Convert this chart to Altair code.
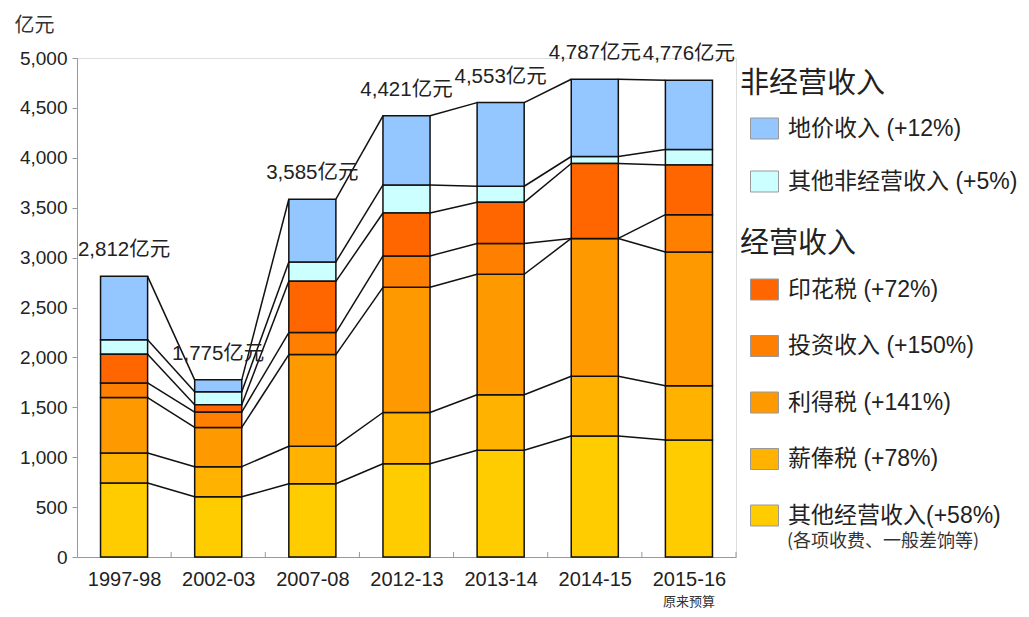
import altair as alt
import pandas as pd

# ---------------- data ----------------
years = ["1997-98", "2002-03", "2007-08", "2012-13", "2013-14", "2014-15", "2015-16"]
totals = [2812, 1775, 3585, 4421, 4553, 4787, 4776]
year_note = "原来预算"

# stacking order: bottom -> top
categories = [
    "其他经营收入(+58%)",
    "薪俸税 (+78%)",
    "利得税 (+141%)",
    "投资收入 (+150%)",
    "印花税 (+72%)",
    "其他非经营收入 (+5%)",
    "地价收入 (+12%)",
]
groups = ["经营收入", "经营收入", "经营收入", "经营收入", "经营收入", "非经营收入", "非经营收入"]
colors = ["#FFCC00", "#FFB300", "#FF9900", "#FF8000", "#FF6600", "#CCFFFF", "#94C6FF"]

other_operating = [741, 603, 734, 935, 1070, 1213, 1173]
salaries_tax = [301, 302, 376, 513, 556, 598, 543]
profits_tax = [555, 393, 918, 1254, 1207, 1381, 1341]
investment_income = [147, 154, 221, 315, 309, 0, 373]
stamp_duty = [287, 73, 513, 430, 412, 751, 499]
other_non_operating = [147, 131, 195, 281, 161, 70, 154]
land_premium = [634, 119, 628, 693, 838, 774, 693]

series = [other_operating, salaries_tax, profits_tax, investment_income,
          stamp_duty, other_non_operating, land_premium]

note_text = "(各项收费、一般差饷等)"

# ---------------- tables ----------------
rows = []
for ci, (cat, grp, vals) in enumerate(zip(categories, groups, series)):
    for yi, (yr, v) in enumerate(zip(years, vals)):
        rows.append({"year": yr, "idx": yi, "category": cat, "group": grp,
                     "order": ci, "value": v})
df = pd.DataFrame(rows)

tot_df = pd.DataFrame({"year": years, "idx": list(range(len(years))), "total": totals})
tot_df["label"] = [f"{t:,}亿元" for t in totals]

note_df = pd.DataFrame({"idx": [len(years) - 1], "note": [year_note]})

FONT = "Liberation Sans, Arial, Noto Sans CJK SC"
CJK = "Noto Sans CJK SC"
W, H = 659, 499

xscale = alt.Scale(domain=[-0.5, len(years) - 0.5], nice=False, zero=False)
yscale = alt.Scale(domain=[0, 5000], nice=False)

label_expr = "[" + ",".join(f"'{y}'" for y in years) + "][datum.value]"

x_axis = alt.Axis(values=list(range(len(years))), labelExpr=label_expr, ticks=False,
                  grid=False, domainColor="#999", domainWidth=1, labelFontSize=20,
                  labelFont=FONT, labelColor="#222", labelPadding=12, title=None)
y_axis = alt.Axis(
    values=list(range(0, 5001, 500)), format=",d", grid=False,
    tickSize=5, tickColor="#999", domainColor="#999", labelFontSize=19,
    labelFont=FONT, labelColor="#222", labelPadding=5,
    title="亿元", titleAngle=0, titleAlign="left", titleBaseline="middle",
    titleX=-63, titleY=-33, titleFont=CJK, titleFontSize=20,
    titleFontWeight="normal", titleColor="#333")

base = alt.Chart(df).transform_stack(
    stack="value", groupby=["year"], as_=["y0", "y1"],
    sort=[alt.SortField("order", order="ascending")],
).transform_calculate(xl="datum.idx - 0.25", xr="datum.idx + 0.25")

nonop_domain = [categories[6], categories[5]]
nonop_range = [colors[6], colors[5]]
op_domain = [categories[4], categories[3], categories[2], categories[1], categories[0]]
op_range = [colors[4], colors[3], colors[2], colors[1], colors[0]]

rect_shape = "M-1,-0.75H1V0.75H-1Z"

def legend(title, ly, rowpad, tpad):
    return alt.Legend(
        title=title, orient="none", legendX=663, legendY=ly,
        titleFontSize=29, titleFont=CJK, titleFontWeight="normal", titleColor="#222",
        titlePadding=tpad, labelFontSize=23, labelFont=FONT, labelColor="#222",
        labelLimit=400, labelOffset=9, symbolType=rect_shape, symbolSize=784,
        symbolStrokeColor="#999", symbolStrokeWidth=1, symbolOpacity=1,
        symbolOffset=10, rowPadding=rowpad, padding=0,
    )

bars_nonop = base.transform_filter(alt.datum.group == "非经营收入").mark_rect(
    stroke="#111", strokeWidth=1.5).encode(
    x=alt.X("xl:Q", scale=xscale, axis=x_axis),
    x2="xr:Q",
    y=alt.Y("y0:Q", scale=yscale, axis=y_axis),
    y2="y1:Q",
    color=alt.Color("category:N", scale=alt.Scale(domain=nonop_domain, range=nonop_range),
                    legend=legend("非经营收入", 12, 26, 15)),
)

bars_op = base.transform_filter(alt.datum.group == "经营收入").mark_rect(
    stroke="#111", strokeWidth=1.5).encode(
    x=alt.X("xl:Q", scale=xscale, axis=x_axis),
    x2="xr:Q",
    y=alt.Y("y0:Q", scale=yscale, axis=y_axis),
    y2="y1:Q",
    color=alt.Color("category:N", scale=alt.Scale(domain=op_domain, range=op_range),
                    legend=legend("经营收入", 172, 29.5, 16)),
)

lines = base.transform_window(
    window=[alt.WindowFieldDef(op="lead", field="y1", **{"as": "next_y1"})],
    groupby=["category"],
    sort=[alt.SortField("idx", order="ascending")],
).transform_filter("isValid(datum.next_y1)").transform_calculate(
    xa="datum.idx + 0.25", xb="datum.idx + 0.75"
).mark_rule(color="#111", strokeWidth=1.5).encode(
    x=alt.X("xa:Q", scale=xscale, axis=x_axis),
    x2="xb:Q",
    y=alt.Y("y1:Q", scale=yscale, axis=y_axis),
    y2="next_y1:Q",
)

sep_ticks = alt.Chart(tot_df).transform_calculate(xs="datum.idx + 0.5").mark_rule(
    color="#999", strokeWidth=1).encode(
    x=alt.X("xs:Q", scale=xscale, axis=x_axis),
    y=alt.value(H - 5), y2=alt.value(H),
)

tot_text = alt.Chart(tot_df).mark_text(
    fontSize=20.5, font=FONT, color="#222", baseline="middle", align="center", dy=-26
).encode(
    x=alt.X("idx:Q", scale=xscale, axis=x_axis),
    y=alt.Y("total:Q", scale=yscale, axis=y_axis),
    text="label:N",
)

note_year = alt.Chart(note_df).mark_text(
    fontSize=13, font=CJK, color="#333", baseline="middle", align="center"
).encode(
    x=alt.X("idx:Q", scale=xscale, axis=x_axis),
    y=alt.value(H + 45),
    text="note:N",
)

note_legend = alt.Chart(pd.DataFrame({"t": [note_text]})).mark_text(
    fontSize=18, font=CJK, color="#333", baseline="middle", align="left"
).encode(
    x=alt.value(710), y=alt.value(484), text="t:N",
)

chart = alt.layer(
    bars_nonop, bars_op, lines, sep_ticks, tot_text, note_year, note_legend
).resolve_scale(color="independent").properties(
    width=W, height=H,
    autosize=alt.AutoSizeParams(type="none"),
    padding={"left": 69, "top": 50, "right": 285, "bottom": 52},
).configure_view(stroke=None).configure(background="white")

chart.save("out.html", embed_options={"renderer": "svg", "actions": False})
